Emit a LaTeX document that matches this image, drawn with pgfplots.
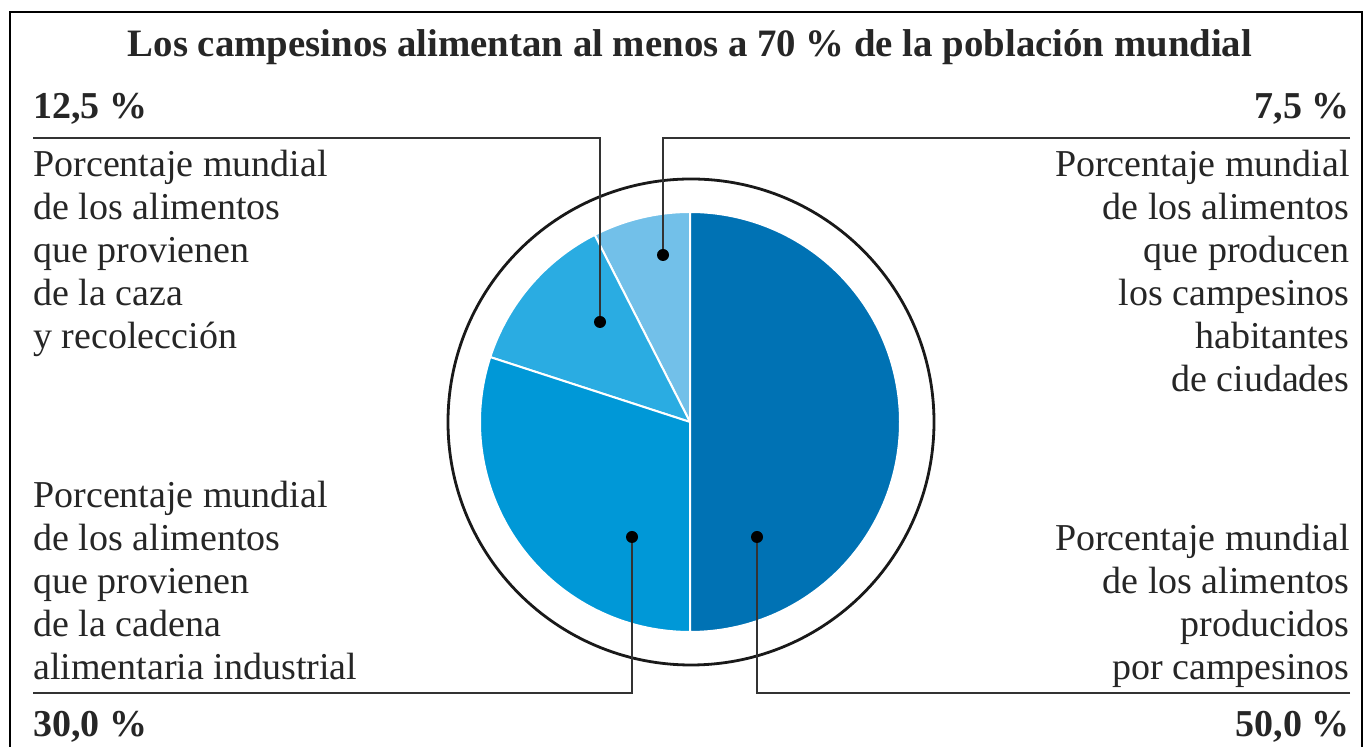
\documentclass[border=0pt]{standalone}
\usepackage{fontspec}
\setmainfont{Liberation Serif}
\usepackage{pgfplots}
\pgfplotsset{compat=1.18}
\definecolor{cA}{HTML}{0072B4}
\definecolor{cB}{HTML}{0098D7}
\definecolor{cC}{HTML}{2AACE2}
\definecolor{cD}{HTML}{72C0E9}
\definecolor{txt}{HTML}{262626}
\definecolor{ln}{HTML}{333333}
\begin{document}
\begin{tikzpicture}
\begin{axis}[
  width=686pt, height=373.5pt, scale only axis,
  xmin=0, xmax=1372, ymin=0, ymax=747,
  hide axis, clip=false,
]
% keep the full canvas in the bounding box
\path (axis cs:0,0) rectangle (axis cs:1372,747);
% pie: shares in percent, starting at 90 deg, counter-clockwise
% 7.5 % (cities), 12.5 % (hunting), 30 % (industrial), 50 % (peasants)
\fill[cD, draw=white, line width=1pt] (axis cs:690,325) -- ++(90:105pt) arc[start angle=90, end angle={90+3.6*7.5}, radius=105pt] -- cycle;
\fill[cC, draw=white, line width=1pt] (axis cs:690,325) -- ++({90+3.6*7.5}:105pt) arc[start angle={90+3.6*7.5}, end angle={90+3.6*(7.5+12.5)}, radius=105pt] -- cycle;
\fill[cB, draw=white, line width=1pt] (axis cs:690,325) -- ++({90+3.6*(7.5+12.5)}:105pt) arc[start angle={90+3.6*(7.5+12.5)}, end angle={90+3.6*(7.5+12.5+30)}, radius=105pt] -- cycle;
\fill[cA, draw=white, line width=1pt] (axis cs:690,325) -- ++({90+3.6*(7.5+12.5+30)}:105pt) arc[start angle={90+3.6*(7.5+12.5+30)}, end angle={90+3.6*(7.5+12.5+30+50)}, radius=105pt] -- cycle;
% outer ring
\draw[black!90, line width=1.4pt] (axis cs:691,325) circle[radius=121.5pt];
% frame
\draw[black, line width=1.2pt] (axis cs:10,0) -- (axis cs:10,735) -- (axis cs:1362,735) -- (axis cs:1362,0);
% callout lines
\draw[ln, line width=1pt] (axis cs:33,609) -- (axis cs:600,609) -- (axis cs:600,425);
\draw[ln, line width=1pt] (axis cs:1350,609) -- (axis cs:663,609) -- (axis cs:663,492);
\draw[ln, line width=1pt] (axis cs:33,54) -- (axis cs:632,54) -- (axis cs:632,210);
\draw[ln, line width=1pt] (axis cs:1350,54) -- (axis cs:757,54) -- (axis cs:757,210);
% dots
\fill[black] (axis cs:600,425) circle[radius=3pt];
\fill[black] (axis cs:663,492) circle[radius=3pt];
\fill[black] (axis cs:632,210) circle[radius=3pt];
\fill[black] (axis cs:757,210) circle[radius=3pt];
% title
\node[anchor=base, inner sep=0, font=\fontsize{19.4}{22}\selectfont\bfseries, text=txt] at (axis cs:690,690) {Los campesinos alimentan al menos a 70 \% de la población mundial};
% percentages
\node[anchor=base west, inner sep=0, font=\fontsize{19}{22}\selectfont\bfseries, text=txt] at (axis cs:33,628) {12,5 \%};
\node[anchor=base east, inner sep=0, font=\fontsize{19}{22}\selectfont\bfseries, text=txt] at (axis cs:1350,628) {7,5 \%};
\node[anchor=base west, inner sep=0, font=\fontsize{19}{22}\selectfont\bfseries, text=txt] at (axis cs:33,10) {30,0 \%};
\node[anchor=base east, inner sep=0, font=\fontsize{19}{22}\selectfont\bfseries, text=txt] at (axis cs:1350,10) {50,0 \%};
% left blocks
\begin{scope}[every node/.style={anchor=base west, inner sep=0, font=\fontsize{19}{22}\selectfont, text=txt}]
\node at (axis cs:33,570) {Porcentaje mundial};
\node at (axis cs:33,527) {de los alimentos};
\node at (axis cs:33,484) {que provienen};
\node at (axis cs:33,441) {de la caza};
\node at (axis cs:33,398) {y recolección};
\node at (axis cs:33,239) {Porcentaje mundial};
\node at (axis cs:33,196) {de los alimentos};
\node at (axis cs:33,153) {que provienen};
\node at (axis cs:33,110) {de la cadena};
\node at (axis cs:33,67) {alimentaria industrial};
\end{scope}
% right blocks
\begin{scope}[every node/.style={anchor=base east, inner sep=0, font=\fontsize{19}{22}\selectfont, text=txt}]
\node at (axis cs:1350,570) {Porcentaje mundial};
\node at (axis cs:1350,527) {de los alimentos};
\node at (axis cs:1350,484) {que producen};
\node at (axis cs:1350,441) {los campesinos};
\node at (axis cs:1350,398) {habitantes};
\node at (axis cs:1350,355) {de ciudades};
\node at (axis cs:1350,196) {Porcentaje mundial};
\node at (axis cs:1350,153) {de los alimentos};
\node at (axis cs:1350,110) {producidos};
\node at (axis cs:1350,67) {por campesinos};
\end{scope}
\end{axis}
\end{tikzpicture}
\end{document}
